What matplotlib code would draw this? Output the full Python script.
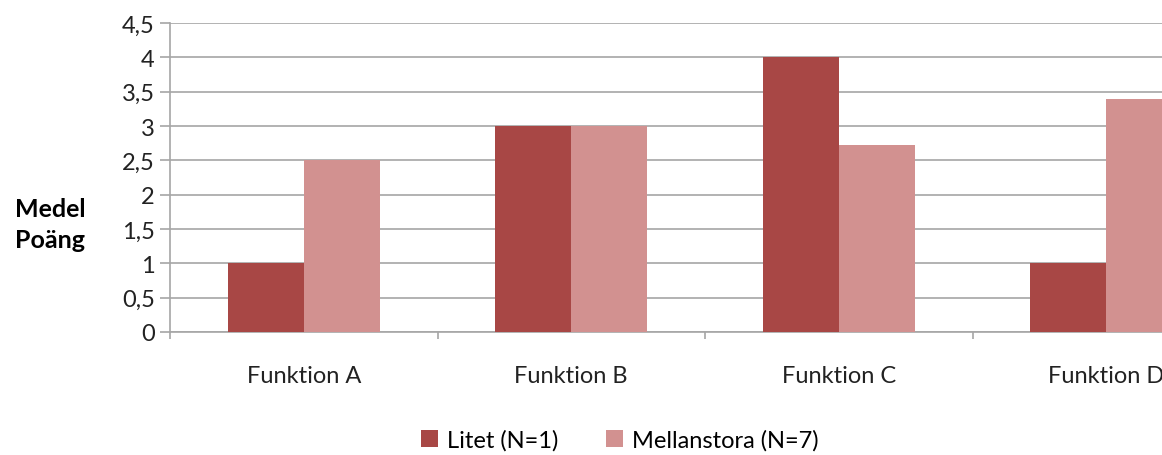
import matplotlib
matplotlib.use("Agg")
import matplotlib.pyplot as plt
import numpy as np
from matplotlib.ticker import FuncFormatter, FixedLocator

categories = ["Funktion A", "Funktion B", "Funktion C", "Funktion D"]
litet = [1, 3, 4, 1]
mellanstora = [2.5, 3, 2.72, 3.4]
series_names = ["Litet (N=1)", "Mellanstora (N=7)"]
yticks = [0, 0.5, 1, 1.5, 2, 2.5, 3, 3.5, 4, 4.5]

plt.rcParams['font.family'] = ['Lato', 'DejaVu Sans']

W, H = 1162, 456
fig = plt.figure(figsize=(W/100, H/100), dpi=100)
ax = fig.add_axes([170/W, 123/H, 1070/W, 309/H])

x = np.arange(len(categories))
bw = 0.284
c1, c2 = "#A84745", "#D29190"
ax.bar(x - bw/2, litet, bw, color=c1, label=series_names[0], zorder=3)
ax.bar(x + bw/2, mellanstora, bw, color=c2, label=series_names[1], zorder=3)

ax.set_xlim(-0.5, len(categories) - 0.5)
ax.set_ylim(0, 4.5)
ax.set_yticks(yticks)
ax.yaxis.set_major_formatter(FuncFormatter(lambda v, p: (f"{v:g}").replace(".", ",")))
ax.grid(axis="y", color="#A6A6A6", linewidth=1.2, zorder=0)

fs = 17
ax.set_xticks(x)
ax.set_xticklabels(categories)
ax.xaxis.set_minor_locator(FixedLocator(np.arange(-0.5, len(categories), 1.0)))
ax.tick_params(axis="x", which="major", length=0, pad=24, labelsize=fs, colors="#222222")
ax.tick_params(axis="x", which="minor", length=5, color="#A6A6A6", width=1.2)
ax.tick_params(axis="y", length=7, color="#A6A6A6", width=1.2, labelsize=fs, labelcolor="#222222", pad=4)

for s in ["top", "right"]:
    ax.spines[s].set_visible(False)
for s in ["left", "bottom"]:
    ax.spines[s].set_color("#A6A6A6")
    ax.spines[s].set_linewidth(1.2)

fig.text(50/W, 1 - 225/H, "Medel\nPoäng", ha="center", va="center",
         fontsize=18, fontweight="bold", linespacing=1.4)

fig.legend(loc="center", bbox_to_anchor=(620/W, 1 - 441/H), ncol=2, frameon=False,
           fontsize=fs, handlelength=0.7, handleheight=0.7, handletextpad=0.4,
           columnspacing=2.0)

fig.savefig("out.png", dpi=100)
